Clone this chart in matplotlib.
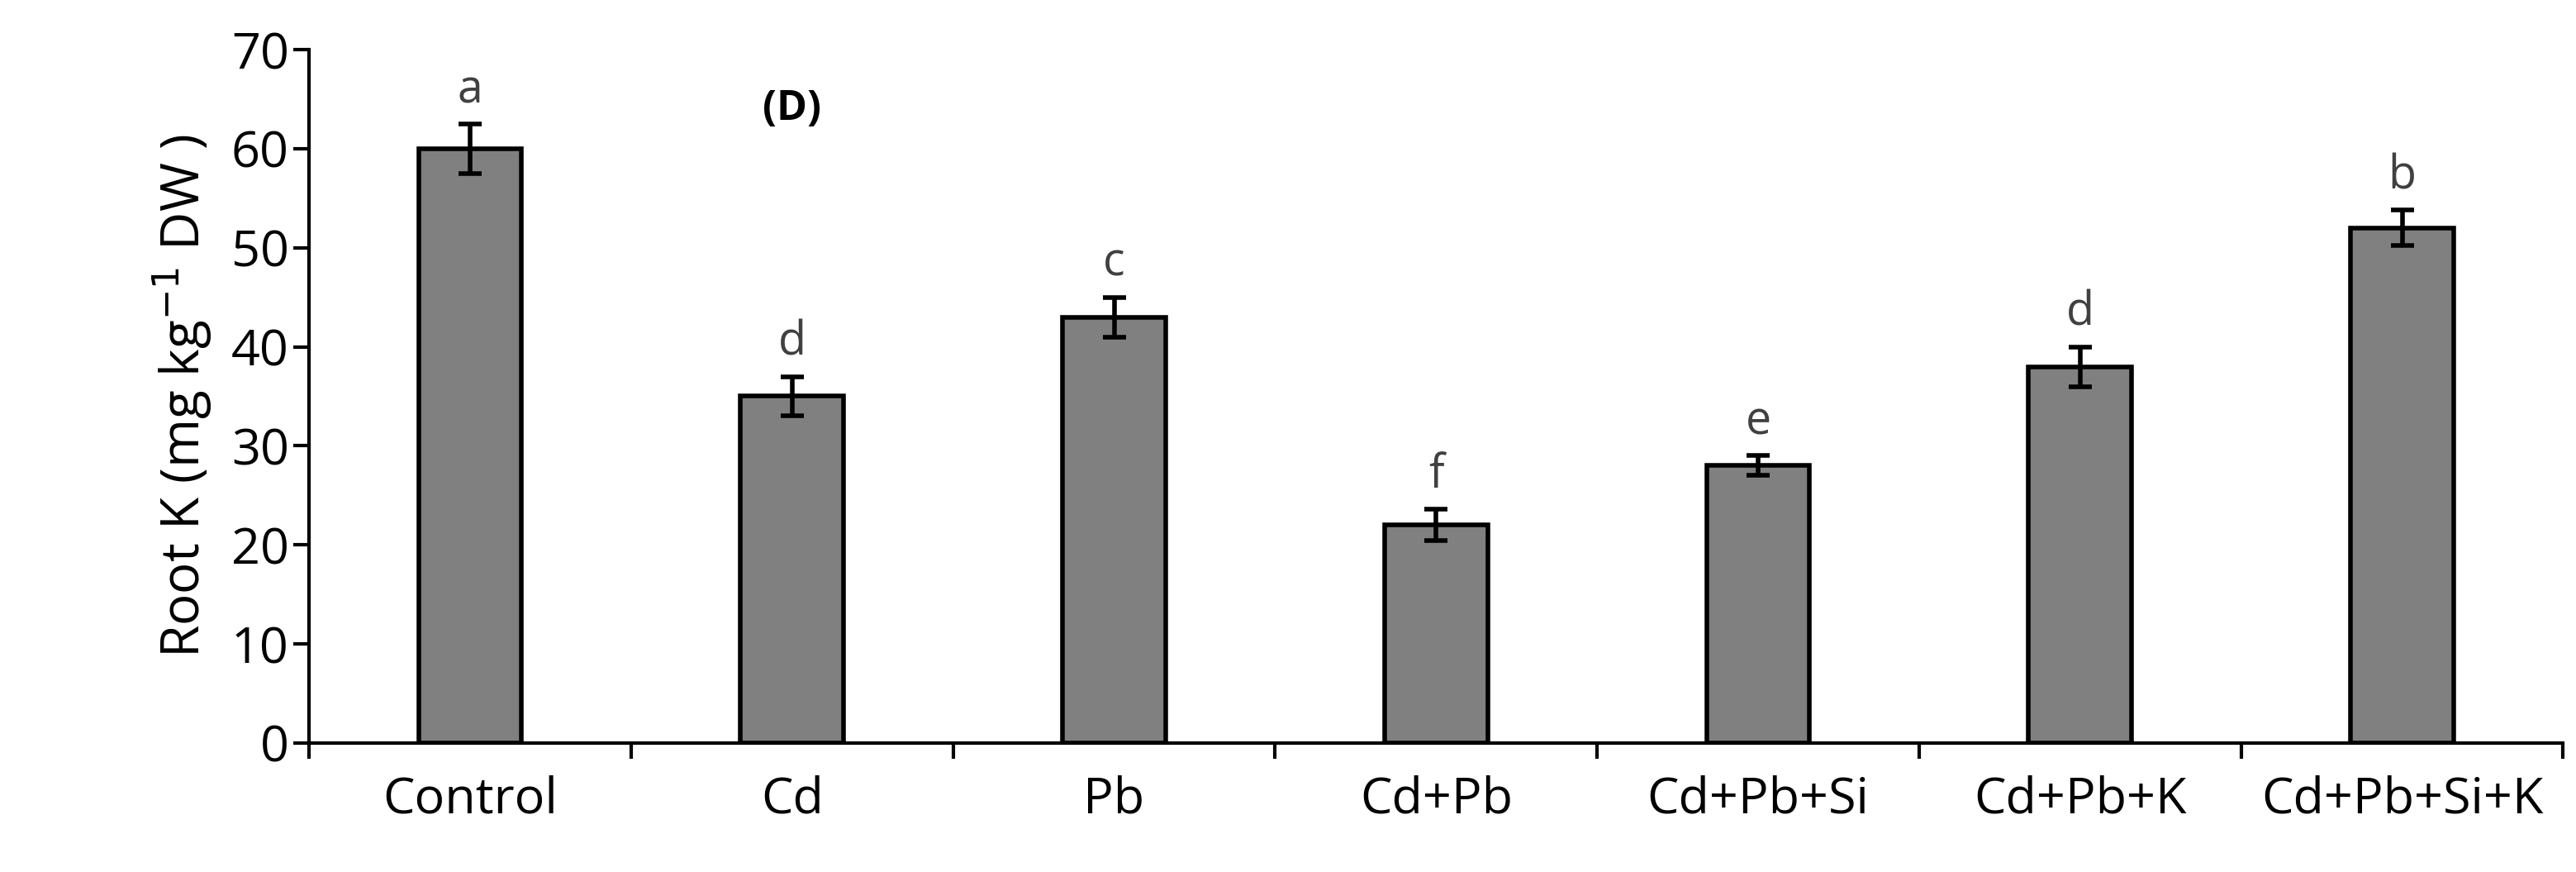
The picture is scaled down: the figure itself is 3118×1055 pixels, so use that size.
import matplotlib.pyplot as plt
import numpy as np

categories = ['Control', 'Cd', 'Pb', 'Cd+Pb', 'Cd+Pb+Si', 'Cd+Pb+K', 'Cd+Pb+Si+K']
values = [60, 35, 43, 22, 28, 38, 52]
errors = [2.5, 2.0, 2.0, 1.6, 1.0, 2.0, 1.8]
letters = ['a', 'd', 'c', 'f', 'e', 'd', 'b']

plt.rcParams['font.family'] = ['Open Sans', 'DejaVu Sans']

fig = plt.figure(figsize=(31.18, 10.55), dpi=100)
ax = fig.add_axes([0.12, 0.148, 0.875, 0.795])

x = np.arange(len(categories))
ax.bar(x, values, width=0.32, color='#808080', edgecolor='black', linewidth=4,
       yerr=errors, capsize=10, error_kw={'elinewidth': 4, 'capthick': 4})
for xi, v, e, l in zip(x, values, errors, letters):
    ax.text(xi, v + e + 1.0, l, ha='center', va='bottom', fontsize=40, color='#404040')

ax.text(1.0, 64, '(D)', fontsize=36, fontweight='bold', ha='center', va='center')

ax.set_xlim(-0.5, len(categories) - 0.5)
ax.set_ylim(0, 70)
ax.set_yticks(range(0, 71, 10))
ax.set_xticks(x)
ax.set_xticklabels(categories)
ax.set_xticks(np.arange(-0.5, len(categories), 1), minor=True)
ax.tick_params(axis='x', which='major', length=0, labelsize=44, pad=28)
ax.tick_params(axis='x', which='minor', length=14, width=3, direction='out')
ax.tick_params(axis='y', labelsize=44, length=14, width=3, direction='out')
ax.set_ylabel('Root K (mg kg$^{-1}$ DW )', fontsize=46, labelpad=15)
for s in ['top', 'right']:
    ax.spines[s].set_visible(False)
for s in ['left', 'bottom']:
    ax.spines[s].set_linewidth(3)

fig.savefig('out.png', dpi=100)
